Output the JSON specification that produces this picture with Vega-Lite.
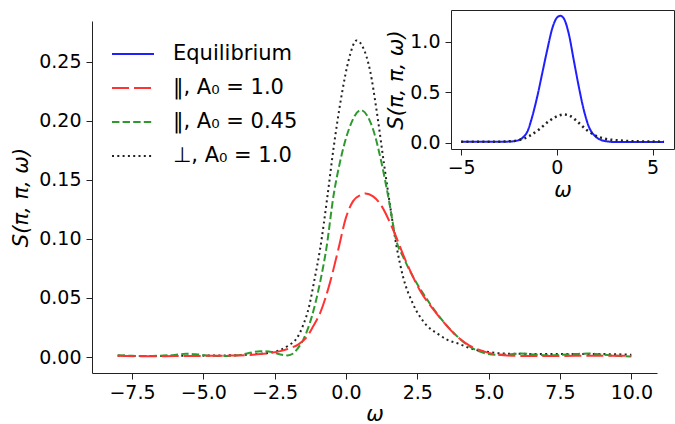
{
  "$schema": "https://vega.github.io/schema/vega-lite/v6.json",
  "width": 565,
  "height": 352,
  "autosize": "none",
  "padding": {"left": 92, "top": 21, "right": 18, "bottom": 51},
  "background": "white",
  "config": {
    "view": {"stroke": null},
    "axis": {
      "labelFont": "DejaVu Sans", "labelFontSize": 19, "labelColor": "#000",
      "titleFont": "DejaVu Sans", "titleFontSize": 21, "titleFontStyle": "italic", "titleFontWeight": "normal", "titleColor": "#000",
      "tickColor": "#222", "domainColor": "#222", "tickSize": 6, "grid": false, "domainWidth": 1, "tickWidth": 1
    },
    "legend": {
      "labelFont": "DejaVu Sans", "labelFontSize": 21, "labelColor": "#000", "labelLimit": 400,
      "symbolType": "stroke", "symbolSize": 1764, "symbolStrokeWidth": 2, "labelOffset": 18, "padding": 0
    }
  },
  "datasets": {
    "main": [
      {"w": -8, "s": 0.0012, "series": "⊥, A₀ = 1.0"},
      {"w": -7, "s": 0.0008, "series": "⊥, A₀ = 1.0"},
      {"w": -6, "s": 0.001, "series": "⊥, A₀ = 1.0"},
      {"w": -5, "s": 0.0012, "series": "⊥, A₀ = 1.0"},
      {"w": -4, "s": 0.0015, "series": "⊥, A₀ = 1.0"},
      {"w": -3.2, "s": 0.0025, "series": "⊥, A₀ = 1.0"},
      {"w": -2.65, "s": 0.0038, "series": "⊥, A₀ = 1.0"},
      {"w": -2.3, "s": 0.006, "series": "⊥, A₀ = 1.0"},
      {"w": -2.0, "s": 0.01, "series": "⊥, A₀ = 1.0"},
      {"w": -1.72, "s": 0.016, "series": "⊥, A₀ = 1.0"},
      {"w": -1.5, "s": 0.027, "series": "⊥, A₀ = 1.0"},
      {"w": -1.3, "s": 0.042, "series": "⊥, A₀ = 1.0"},
      {"w": -1.1, "s": 0.066, "series": "⊥, A₀ = 1.0"},
      {"w": -0.91, "s": 0.091, "series": "⊥, A₀ = 1.0"},
      {"w": -0.65, "s": 0.136, "series": "⊥, A₀ = 1.0"},
      {"w": -0.44, "s": 0.176, "series": "⊥, A₀ = 1.0"},
      {"w": -0.15, "s": 0.222, "series": "⊥, A₀ = 1.0"},
      {"w": 0.1, "s": 0.252, "series": "⊥, A₀ = 1.0"},
      {"w": 0.37, "s": 0.268, "series": "⊥, A₀ = 1.0"},
      {"w": 0.6, "s": 0.262, "series": "⊥, A₀ = 1.0"},
      {"w": 0.84, "s": 0.243, "series": "⊥, A₀ = 1.0"},
      {"w": 1.09, "s": 0.206, "series": "⊥, A₀ = 1.0"},
      {"w": 1.33, "s": 0.164, "series": "⊥, A₀ = 1.0"},
      {"w": 1.51, "s": 0.134, "series": "⊥, A₀ = 1.0"},
      {"w": 1.77, "s": 0.094, "series": "⊥, A₀ = 1.0"},
      {"w": 2.0, "s": 0.068, "series": "⊥, A₀ = 1.0"},
      {"w": 2.35, "s": 0.045, "series": "⊥, A₀ = 1.0"},
      {"w": 2.82, "s": 0.027, "series": "⊥, A₀ = 1.0"},
      {"w": 3.2, "s": 0.02, "series": "⊥, A₀ = 1.0"},
      {"w": 3.52, "s": 0.015, "series": "⊥, A₀ = 1.0"},
      {"w": 3.98, "s": 0.011, "series": "⊥, A₀ = 1.0"},
      {"w": 4.44, "s": 0.0068, "series": "⊥, A₀ = 1.0"},
      {"w": 5.0, "s": 0.0042, "series": "⊥, A₀ = 1.0"},
      {"w": 5.5, "s": 0.003, "series": "⊥, A₀ = 1.0"},
      {"w": 6, "s": 0.0028, "series": "⊥, A₀ = 1.0"},
      {"w": 7, "s": 0.0025, "series": "⊥, A₀ = 1.0"},
      {"w": 8, "s": 0.0025, "series": "⊥, A₀ = 1.0"},
      {"w": 9, "s": 0.0025, "series": "⊥, A₀ = 1.0"},
      {"w": 10, "s": 0.002, "series": "⊥, A₀ = 1.0"},

      {"w": -8, "s": 0.0015, "series": "‖, A₀ = 0.45"},
      {"w": -7.5, "s": 0.001, "series": "‖, A₀ = 0.45"},
      {"w": -7, "s": 0.0008, "series": "‖, A₀ = 0.45"},
      {"w": -6.5, "s": 0.0012, "series": "‖, A₀ = 0.45"},
      {"w": -6, "s": 0.0018, "series": "‖, A₀ = 0.45"},
      {"w": -5.6, "s": 0.0028, "series": "‖, A₀ = 0.45"},
      {"w": -5.2, "s": 0.0022, "series": "‖, A₀ = 0.45"},
      {"w": -4.8, "s": 0.0012, "series": "‖, A₀ = 0.45"},
      {"w": -4.3, "s": 0.0008, "series": "‖, A₀ = 0.45"},
      {"w": -3.8, "s": 0.0015, "series": "‖, A₀ = 0.45"},
      {"w": -3.4, "s": 0.0035, "series": "‖, A₀ = 0.45"},
      {"w": -3.0, "s": 0.005, "series": "‖, A₀ = 0.45"},
      {"w": -2.6, "s": 0.0042, "series": "‖, A₀ = 0.45"},
      {"w": -2.3, "s": 0.0022, "series": "‖, A₀ = 0.45"},
      {"w": -2.05, "s": 0.0014, "series": "‖, A₀ = 0.45"},
      {"w": -1.85, "s": 0.003, "series": "‖, A₀ = 0.45"},
      {"w": -1.7, "s": 0.007, "series": "‖, A₀ = 0.45"},
      {"w": -1.49, "s": 0.015, "series": "‖, A₀ = 0.45"},
      {"w": -1.2, "s": 0.034, "series": "‖, A₀ = 0.45"},
      {"w": -0.91, "s": 0.063, "series": "‖, A₀ = 0.45"},
      {"w": -0.68, "s": 0.093, "series": "‖, A₀ = 0.45"},
      {"w": -0.44, "s": 0.136, "series": "‖, A₀ = 0.45"},
      {"w": -0.21, "s": 0.165, "series": "‖, A₀ = 0.45"},
      {"w": 0.12, "s": 0.194, "series": "‖, A₀ = 0.45"},
      {"w": 0.52, "s": 0.209, "series": "‖, A₀ = 0.45"},
      {"w": 0.96, "s": 0.192, "series": "‖, A₀ = 0.45"},
      {"w": 1.25, "s": 0.164, "series": "‖, A₀ = 0.45"},
      {"w": 1.48, "s": 0.136, "series": "‖, A₀ = 0.45"},
      {"w": 1.77, "s": 0.098, "series": "‖, A₀ = 0.45"},
      {"w": 2.0, "s": 0.085, "series": "‖, A₀ = 0.45"},
      {"w": 2.35, "s": 0.068, "series": "‖, A₀ = 0.45"},
      {"w": 2.7, "s": 0.054, "series": "‖, A₀ = 0.45"},
      {"w": 3.28, "s": 0.034, "series": "‖, A₀ = 0.45"},
      {"w": 3.75, "s": 0.021, "series": "‖, A₀ = 0.45"},
      {"w": 4.33, "s": 0.009, "series": "‖, A₀ = 0.45"},
      {"w": 4.91, "s": 0.003, "series": "‖, A₀ = 0.45"},
      {"w": 5.3, "s": 0.002, "series": "‖, A₀ = 0.45"},
      {"w": 5.7, "s": 0.0022, "series": "‖, A₀ = 0.45"},
      {"w": 6.1, "s": 0.003, "series": "‖, A₀ = 0.45"},
      {"w": 6.6, "s": 0.0022, "series": "‖, A₀ = 0.45"},
      {"w": 7.0, "s": 0.0015, "series": "‖, A₀ = 0.45"},
      {"w": 7.5, "s": 0.0018, "series": "‖, A₀ = 0.45"},
      {"w": 8.0, "s": 0.0025, "series": "‖, A₀ = 0.45"},
      {"w": 8.5, "s": 0.003, "series": "‖, A₀ = 0.45"},
      {"w": 9.0, "s": 0.002, "series": "‖, A₀ = 0.45"},
      {"w": 9.5, "s": 0.001, "series": "‖, A₀ = 0.45"},
      {"w": 10, "s": 0.0005, "series": "‖, A₀ = 0.45"},

      {"w": -8, "s": 0.001, "series": "‖, A₀ = 1.0"},
      {"w": -7, "s": 0.0006, "series": "‖, A₀ = 1.0"},
      {"w": -6, "s": 0.0008, "series": "‖, A₀ = 1.0"},
      {"w": -5, "s": 0.001, "series": "‖, A₀ = 1.0"},
      {"w": -4, "s": 0.0013, "series": "‖, A₀ = 1.0"},
      {"w": -3, "s": 0.0025, "series": "‖, A₀ = 1.0"},
      {"w": -2.65, "s": 0.0035, "series": "‖, A₀ = 1.0"},
      {"w": -2.3, "s": 0.005, "series": "‖, A₀ = 1.0"},
      {"w": -1.96, "s": 0.0075, "series": "‖, A₀ = 1.0"},
      {"w": -1.65, "s": 0.011, "series": "‖, A₀ = 1.0"},
      {"w": -1.37, "s": 0.017, "series": "‖, A₀ = 1.0"},
      {"w": -1.15, "s": 0.026, "series": "‖, A₀ = 1.0"},
      {"w": -0.91, "s": 0.037, "series": "‖, A₀ = 1.0"},
      {"w": -0.56, "s": 0.063, "series": "‖, A₀ = 1.0"},
      {"w": -0.27, "s": 0.091, "series": "‖, A₀ = 1.0"},
      {"w": 0.0, "s": 0.118, "series": "‖, A₀ = 1.0"},
      {"w": 0.25, "s": 0.132, "series": "‖, A₀ = 1.0"},
      {"w": 0.5, "s": 0.137, "series": "‖, A₀ = 1.0"},
      {"w": 0.69, "s": 0.1385, "series": "‖, A₀ = 1.0"},
      {"w": 0.95, "s": 0.136, "series": "‖, A₀ = 1.0"},
      {"w": 1.19, "s": 0.13, "series": "‖, A₀ = 1.0"},
      {"w": 1.65, "s": 0.108, "series": "‖, A₀ = 1.0"},
      {"w": 2.12, "s": 0.08, "series": "‖, A₀ = 1.0"},
      {"w": 2.58, "s": 0.057, "series": "‖, A₀ = 1.0"},
      {"w": 3.17, "s": 0.037, "series": "‖, A₀ = 1.0"},
      {"w": 3.87, "s": 0.018, "series": "‖, A₀ = 1.0"},
      {"w": 4.33, "s": 0.0097, "series": "‖, A₀ = 1.0"},
      {"w": 4.8, "s": 0.005, "series": "‖, A₀ = 1.0"},
      {"w": 5.3, "s": 0.002, "series": "‖, A₀ = 1.0"},
      {"w": 6, "s": 0.001, "series": "‖, A₀ = 1.0"},
      {"w": 7, "s": 0.0008, "series": "‖, A₀ = 1.0"},
      {"w": 8, "s": 0.001, "series": "‖, A₀ = 1.0"},
      {"w": 9, "s": 0.0012, "series": "‖, A₀ = 1.0"},
      {"w": 10, "s": 0.001, "series": "‖, A₀ = 1.0"}
    ],
    "inset": [
      {"w": -5, "s": 0.008, "series": "Equilibrium"},
      {"w": -4, "s": 0.008, "series": "Equilibrium"},
      {"w": -3, "s": 0.009, "series": "Equilibrium"},
      {"w": -2.5, "s": 0.011, "series": "Equilibrium"},
      {"w": -2.14, "s": 0.018, "series": "Equilibrium"},
      {"w": -1.79, "s": 0.049, "series": "Equilibrium"},
      {"w": -1.53, "s": 0.114, "series": "Equilibrium"},
      {"w": -1.28, "s": 0.262, "series": "Equilibrium"},
      {"w": -1.02, "s": 0.459, "series": "Equilibrium"},
      {"w": -0.76, "s": 0.69, "series": "Equilibrium"},
      {"w": -0.5, "s": 0.92, "series": "Equilibrium"},
      {"w": -0.24, "s": 1.13, "series": "Equilibrium"},
      {"w": 0.02, "s": 1.24, "series": "Equilibrium"},
      {"w": 0.19, "s": 1.255, "series": "Equilibrium"},
      {"w": 0.36, "s": 1.23, "series": "Equilibrium"},
      {"w": 0.62, "s": 1.08, "series": "Equilibrium"},
      {"w": 0.88, "s": 0.82, "series": "Equilibrium"},
      {"w": 1.14, "s": 0.56, "series": "Equilibrium"},
      {"w": 1.4, "s": 0.33, "series": "Equilibrium"},
      {"w": 1.66, "s": 0.164, "series": "Equilibrium"},
      {"w": 2.0, "s": 0.065, "series": "Equilibrium"},
      {"w": 2.52, "s": 0.016, "series": "Equilibrium"},
      {"w": 3, "s": 0.007, "series": "Equilibrium"},
      {"w": 4, "s": 0.006, "series": "Equilibrium"},
      {"w": 5, "s": 0.006, "series": "Equilibrium"},
      {"w": 5.6, "s": 0.006, "series": "Equilibrium"},

      {"w": -5, "s": 0.01, "series": "⊥, A₀ = 1.0"},
      {"w": -4, "s": 0.01, "series": "⊥, A₀ = 1.0"},
      {"w": -3.2, "s": 0.01, "series": "⊥, A₀ = 1.0"},
      {"w": -2.65, "s": 0.012, "series": "⊥, A₀ = 1.0"},
      {"w": -1.97, "s": 0.026, "series": "⊥, A₀ = 1.0"},
      {"w": -1.45, "s": 0.065, "series": "⊥, A₀ = 1.0"},
      {"w": -0.93, "s": 0.131, "series": "⊥, A₀ = 1.0"},
      {"w": -0.41, "s": 0.213, "series": "⊥, A₀ = 1.0"},
      {"w": 0.02, "s": 0.262, "series": "⊥, A₀ = 1.0"},
      {"w": 0.36, "s": 0.279, "series": "⊥, A₀ = 1.0"},
      {"w": 0.71, "s": 0.262, "series": "⊥, A₀ = 1.0"},
      {"w": 1.14, "s": 0.197, "series": "⊥, A₀ = 1.0"},
      {"w": 1.57, "s": 0.124, "series": "⊥, A₀ = 1.0"},
      {"w": 2.0, "s": 0.072, "series": "⊥, A₀ = 1.0"},
      {"w": 2.52, "s": 0.039, "series": "⊥, A₀ = 1.0"},
      {"w": 3.21, "s": 0.023, "series": "⊥, A₀ = 1.0"},
      {"w": 4.24, "s": 0.013, "series": "⊥, A₀ = 1.0"},
      {"w": 5.0, "s": 0.011, "series": "⊥, A₀ = 1.0"},
      {"w": 5.6, "s": 0.01, "series": "⊥, A₀ = 1.0"}
    ]
  },
  "layer": [
    {
      "data": {"name": "main"},
      "mark": {"type": "line", "strokeWidth": 2, "interpolate": "monotone"},
      "encoding": {
        "x": {
          "field": "w", "type": "quantitative",
          "scale": {"domain": [-8.9, 10.9], "nice": false, "zero": false},
          "axis": {"orient": "bottom", "values": [-7.5, -5, -2.5, 0, 2.5, 5, 7.5, 10], "format": ".1f", "title": "ω", "labelPadding": 4, "titlePadding": 1}
        },
        "y": {
          "field": "s", "type": "quantitative",
          "scale": {"domain": [-0.0135, 0.2845], "nice": false, "zero": false},
          "axis": {"orient": "left", "values": [0, 0.05, 0.1, 0.15, 0.2, 0.25], "format": ".2f", "title": "S(π, π, ω)", "labelPadding": 5, "titlePadding": 7}
        },
        "color": {
          "field": "series", "type": "nominal",
          "scale": {"domain": ["Equilibrium", "‖, A₀ = 1.0", "‖, A₀ = 0.45", "⊥, A₀ = 1.0"], "range": ["#2020ff", "#ff3333", "#2e9a2e", "#222222"]},
          "legend": {"title": null, "orient": "none", "legendX": 19, "legendY": 11, "rowPadding": 2}
        },
        "strokeDash": {
          "field": "series", "type": "nominal",
          "scale": {"domain": ["Equilibrium", "‖, A₀ = 1.0", "‖, A₀ = 0.45", "⊥, A₀ = 1.0"], "range": [[1, 0], [17, 5], [7.4, 3.2], [2, 3.3]]},
          "legend": {"title": null, "orient": "none", "legendX": 19, "legendY": 11, "rowPadding": 2}
        }
      }
    },
    {
      "data": {"name": "inset"},
      "layer": [
        {
          "transform": [{"filter": "datum.series == 'Equilibrium'"}],
          "mark": {"type": "line", "strokeWidth": 2, "interpolate": "monotone"},
          "encoding": {
            "x": {
              "field": "w", "type": "quantitative",
              "scale": {"domain": [-5.53, 6.12], "range": [359, 582], "nice": false, "zero": false},
              "axis": {"orient": "bottom", "offset": -224, "values": [-5, 0, 5], "format": "d", "title": "ω", "labelPadding": 3, "titlePadding": 2}
            },
            "y": {
              "field": "s", "type": "quantitative",
              "scale": {"domain": [-0.0625, 1.3125], "range": [128, -11], "nice": false, "zero": false},
              "axis": {"orient": "left", "offset": -359, "values": [0, 0.5, 1], "format": ".1f", "title": "S(π, π, ω)", "labelPadding": 5, "titlePadding": 3}
            },
            "color": {"field": "series", "type": "nominal"},
            "strokeDash": {"field": "series", "type": "nominal"}
          }
        },
        {
          "transform": [{"filter": "datum.series != 'Equilibrium'"}],
          "mark": {"type": "line", "strokeWidth": 2.5, "interpolate": "monotone"},
          "encoding": {
            "x": {
              "field": "w", "type": "quantitative",
              "scale": {"domain": [-5.53, 6.12], "range": [359, 582], "nice": false, "zero": false},
              "axis": {"orient": "top", "offset": 11, "labels": false, "ticks": false, "title": null, "domain": true}
            },
            "y": {
              "field": "s", "type": "quantitative",
              "scale": {"domain": [-0.0625, 1.3125], "range": [128, -11], "nice": false, "zero": false},
              "axis": {"orient": "right", "offset": 17, "labels": false, "ticks": false, "title": null, "domain": true}
            },
            "color": {"field": "series", "type": "nominal"},
            "strokeDash": {"field": "series", "type": "nominal"}
          }
        }
      ],
      "resolve": {"axis": {"x": "independent", "y": "independent"}}
    }
  ],
  "resolve": {
    "scale": {"x": "independent", "y": "independent"},
    "axis": {"x": "independent", "y": "independent"}
  }
}
